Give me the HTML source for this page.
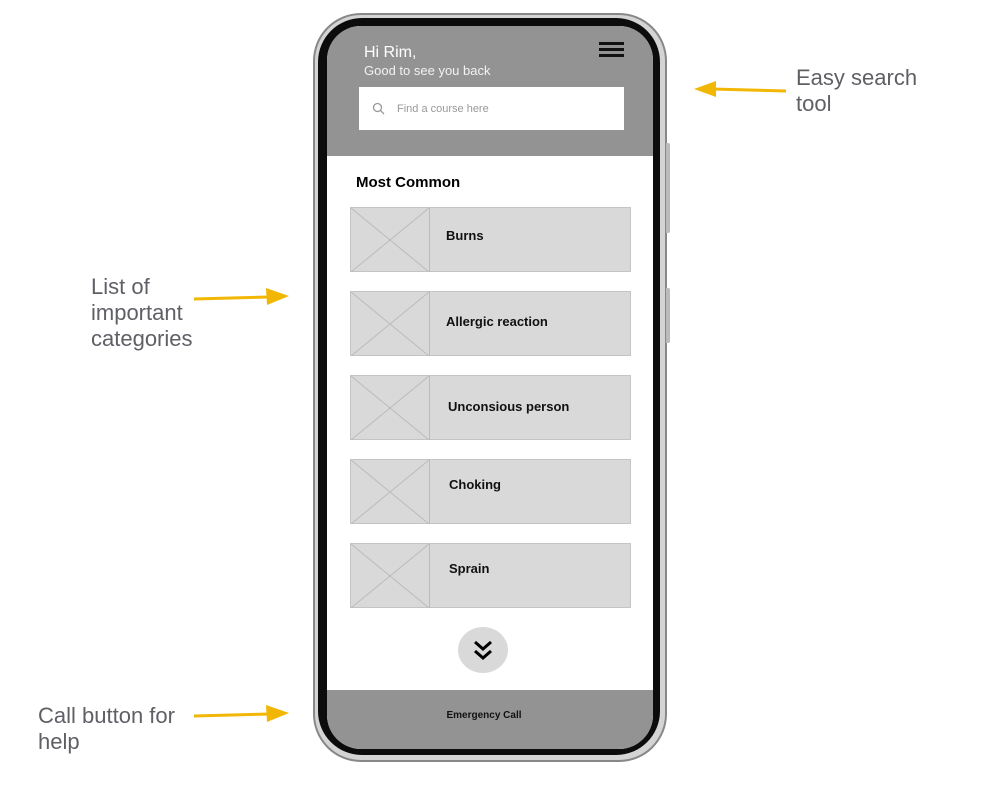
<!DOCTYPE html>
<html><head><style>
body{margin:0;width:982px;height:795px;background:#fff;position:relative;overflow:hidden;font-family:"Liberation Sans",sans-serif}
.a{position:absolute}
.note{position:absolute;color:#5f5f66;font-size:22px;line-height:26px}
.card{position:absolute;left:350px;width:279px;height:63px;background:#d9d9d9;border:1px solid #c4c4c4}
.card svg{position:absolute;left:0;top:0}
.card span{position:absolute;font-weight:bold;font-size:13px;color:#111}
</style></head><body>
<!-- phone -->
<div class="a" style="left:313px;top:13px;width:350px;height:745px;border-radius:48px;background:#d4d4d4;border:2px solid #888"></div>
<div class="a" style="left:318px;top:18px;width:342px;height:737px;border-radius:44px;background:#0c0c0c"></div>
<div class="a" style="left:666px;top:143px;width:4px;height:90px;background:#bbb;border-radius:0 2px 2px 0"></div>
<div class="a" style="left:666px;top:288px;width:4px;height:55px;background:#bbb;border-radius:0 2px 2px 0"></div>
<div class="a" style="left:327px;top:26px;width:326px;height:723px;border-radius:34px;overflow:hidden;background:#fff">
  <div class="a" style="left:0;top:0;width:326px;height:130px;background:#939393"></div>
  <div class="a" style="left:37px;top:18px;color:#fff;font-size:16px">Hi Rim,</div>
  <div class="a" style="left:37px;top:37px;color:#f2f2f2;font-size:13px">Good to see you back</div>
  <div class="a" style="left:272px;top:16px;width:25px;height:3px;background:#111;box-shadow:0 6px 0 #111,0 12px 0 #111"></div>
  <div class="a" style="left:32px;top:61px;width:265px;height:43px;background:#fff"></div>
  <svg class="a" style="left:45px;top:76px" width="14" height="14"><circle cx="5.5" cy="5.5" r="4" fill="none" stroke="#999" stroke-width="1.3"/><line x1="8.5" y1="8.5" x2="12" y2="12" stroke="#999" stroke-width="1.3"/></svg>
  <div class="a" style="left:70px;top:77px;color:#999;font-size:11px">Find a course here</div>
  <div class="a" style="left:29px;top:148px;font-weight:bold;font-size:15px;color:#000">Most Common</div>
  <div class="a" style="left:0;top:664px;width:326px;height:59px;background:#939393"></div>
  <div class="a" style="left:-6px;top:684px;width:326px;text-align:center;font-size:10px;font-weight:bold;color:#111">Emergency Call</div>
  <div class="a" style="left:131px;top:601px;width:50px;height:46px;border-radius:50%;background:#d9d9d9"></div>
  <svg class="a" style="left:145px;top:613px" width="22" height="26"><polyline points="3,3 11,10 19,3" fill="none" stroke="#000" stroke-width="3"/><polyline points="3,12 11,19 19,12" fill="none" stroke="#000" stroke-width="3"/></svg>
</div>
<!-- cards -->
<div class="card" style="top:207px"><svg width="80" height="64"><line x1="0" y1="0" x2="78" y2="64" stroke="#bbb"/><line x1="0" y1="64" x2="78" y2="0" stroke="#bbb"/><line x1="78.5" y1="0" x2="78.5" y2="64" stroke="#bbb"/></svg><span style="left:95px;top:20px">Burns</span></div>
<div class="card" style="top:291px"><svg width="80" height="64"><line x1="0" y1="0" x2="78" y2="64" stroke="#bbb"/><line x1="0" y1="64" x2="78" y2="0" stroke="#bbb"/><line x1="78.5" y1="0" x2="78.5" y2="64" stroke="#bbb"/></svg><span style="left:95px;top:22px">Allergic reaction</span></div>
<div class="card" style="top:375px"><svg width="80" height="64"><line x1="0" y1="0" x2="78" y2="64" stroke="#bbb"/><line x1="0" y1="64" x2="78" y2="0" stroke="#bbb"/><line x1="78.5" y1="0" x2="78.5" y2="64" stroke="#bbb"/></svg><span style="left:97px;top:23px">Unconsious person</span></div>
<div class="card" style="top:459px"><svg width="80" height="64"><line x1="0" y1="0" x2="78" y2="64" stroke="#bbb"/><line x1="0" y1="64" x2="78" y2="0" stroke="#bbb"/><line x1="78.5" y1="0" x2="78.5" y2="64" stroke="#bbb"/></svg><span style="left:98px;top:17px">Choking</span></div>
<div class="card" style="top:543px"><svg width="80" height="64"><line x1="0" y1="0" x2="78" y2="64" stroke="#bbb"/><line x1="0" y1="64" x2="78" y2="0" stroke="#bbb"/><line x1="78.5" y1="0" x2="78.5" y2="64" stroke="#bbb"/></svg><span style="left:98px;top:17px">Sprain</span></div>
<!-- annotations -->
<div class="note" style="left:796px;top:65px">Easy search<br>tool</div>
<div class="note" style="left:91px;top:274px">List of<br>important<br>categories</div>
<div class="note" style="left:38px;top:703px">Call button for<br>help</div>
<svg class="a" style="left:0;top:0" width="982" height="795">
<g fill="#f2b705" stroke="#f2b705">
<line x1="786" y1="91" x2="712" y2="89" stroke-width="3"/><polygon points="694,89 716,81 716,97" stroke="none"/>
<line x1="194" y1="299" x2="270" y2="297" stroke-width="3"/><polygon points="289,296 266,288 267,305" stroke="none"/>
<line x1="194" y1="716" x2="270" y2="714" stroke-width="3"/><polygon points="289,713 266,705 267,722" stroke="none"/>
</g></svg>
</body></html>
